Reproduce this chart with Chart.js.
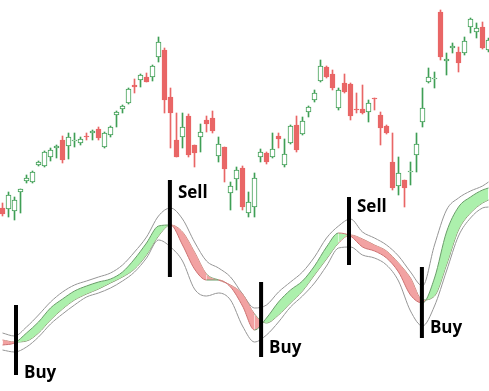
<!DOCTYPE html>
<html>
<head>
<meta charset="utf-8">
<script src="https://cdn.jsdelivr.net/npm/chart.js@4.4.1/dist/chart.umd.min.js"></script>
<style>
  html, body { margin: 0; padding: 0; background: #fff; }
  canvas { display: block; }
</style>
</head>
<body>
<canvas id="myChart" width="489" height="391"></canvas>
<script>
// Price candles, one per bar (bar index 0..81)
const opens  = [96, 95.5, 94.5, 104, 109.5, 109, 117.5, 117, 121.5, 126, 130, 127, 129.5, 128.5, 132, 133.5, 135.5, 126.5, 132.5, 142.5,
                145.5, 148.5, 157.5, 160, 161.5, 161.5, 171.5, 175, 151.5, 130, 131.5, 142, 127.5, 131.5, 140, 141, 122, 126.5, 103.5, 110.5,
                116, 93.5, 96.5, 121.5, 123.5, 121.5, 132, 117.5, 128.5, 137.5, 133, 144, 150, 159.5, 166.5, 163, 146, 158.5, 158, 145.5,
                145.5, 144, 151, 142.5, 137, 119, 107, 110, 114, 122.5, 139, 159, 160.5, 194, 169.5, 176, 174, 173.5, 186.5, 184,
                186.5, 175];
const highs  = [98.5, 104, 101.5, 105.5, 112.5, 114.5, 119.5, 124.5, 126, 127.5, 132, 133.5, 133.5, 131.5, 133.5, 135, 136.5, 134, 137, 144.5,
                147.5, 156, 160.5, 163, 163.5, 167.5, 181.5, 176, 156, 143.5, 143.5, 143, 127.5, 138, 142, 144.5, 131.5, 126.5, 109, 116.5,
                117, 104, 113.5, 125.5, 124, 133.5, 133.5, 130.5, 137.5, 142, 141.5, 147, 155, 170, 167, 165, 156, 163, 158.5, 153.5,
                157.5, 150, 151, 144, 137.5, 133.5, 121.5, 110, 119, 133.5, 156, 166, 164, 195, 173.5, 178.5, 176.5, 181.5, 191, 188.5,
                189, 181];
const lows   = [92, 91.5, 90, 93.5, 108.5, 108.5, 117, 116.5, 119.5, 121, 118.5, 120.5, 126.5, 127.5, 130, 130, 130, 126, 131.5, 136.5,
                143.5, 148, 153.5, 156.5, 159, 159.5, 169, 143.5, 126, 121.5, 126, 121.5, 116.5, 124, 134, 133.5, 119, 109, 95, 105,
                95, 91.5, 91.5, 119, 118, 121, 126, 116.5, 128, 124, 132.5, 141.5, 149, 159, 161, 155, 145, 153.5, 140, 143.5,
                143, 139, 145, 127.5, 133, 105, 102.5, 96.5, 107.5, 114, 136.5, 158.5, 156, 170, 162.5, 173.5, 164, 172.5, 183.5, 181,
                175.5, 174];
const closes = [93, 102.5, 100, 105.5, 111, 114, 119, 124, 125, 127, 120, 131.5, 130, 130.5, 131.5, 134.5, 131, 133.5, 136.5, 144,
                147, 155.5, 156.5, 162.5, 159, 167, 179, 150, 143.5, 121.5, 136.5, 122.5, 123.5, 134, 138, 134.5, 128, 115.5, 107, 115,
                96.5, 99, 111, 124, 119, 125.5, 130.5, 123, 137, 125, 139.5, 146.5, 153.5, 167, 161.5, 156, 155, 154, 142, 145,
                143.5, 148.5, 150.5, 136, 133.5, 106, 113.5, 106, 114.5, 128, 146, 161.5, 161, 171.5, 170.5, 177, 168.5, 179.5, 190.5, 186,
                176, 180];

// Moving-average ribbon, read every second bar
const oscIdx    = [0, 2, 4, 6, 8, 10, 12, 14, 16, 18, 20, 22, 24, 26, 28, 30, 32, 34, 36, 38,
                   40, 42, 44, 46, 48, 50, 52, 54, 56, 58, 60, 62, 64, 66, 68, 70, 72, 74, 76, 78,
                   80, 81];
const fastLine  = [23, 24, 29, 34.5, 41.5, 46, 50, 52.5, 54.5, 56, 59.5, 66, 74, 82.5, 83, 73, 61, 55.5, 55.5, 52,
                   42.5, 30.5, 36.5, 44.5, 50.5, 55, 62.5, 72, 79, 77.5, 72, 70, 66.5, 59.5, 48, 44, 56.5, 79.5, 92, 97,
                   100.5, 101.5];
const slowLine  = [25.5, 24.5, 25, 29, 35.5, 41, 45.5, 48.5, 51, 54, 57, 61, 68, 77.5, 83, 79.5, 69.5, 58.5, 55.5, 53,
                   48.5, 38.5, 34, 38, 44, 50, 58, 66, 74, 78, 76, 73, 70, 64, 56.5, 45.5, 47.5, 63, 80.5, 89,
                   94, 95.5];
const upperBand = [29, 27.5, 32, 38, 44.5, 49.5, 53, 55, 57, 59, 63, 69.5, 77, 87.5, 91.5, 86, 74.5, 65, 61.5, 57,
                   48.5, 41.5, 43, 49.5, 54.5, 59.5, 67, 76.5, 82.5, 86, 79.5, 76.5, 73, 67.5, 59.5, 52.5, 73, 90.5, 96.5, 100,
                   102.5, 104.5];
const lowerBand = [20.5, 19.5, 22, 27, 33.5, 38.5, 43, 47, 49, 51.5, 55, 59.5, 66.5, 75.5, 72, 65, 51, 47.5, 49, 45.5,
                   32.5, 24.5, 28, 34.5, 42, 47.5, 54, 62.5, 71.5, 72, 68, 66.5, 63, 55, 40, 32.5, 42.5, 60, 77.5, 86.5,
                   91.5, 92];

// Signals
const signalIdx    = [2.25, 27.9, 43.1, 57.75, 69.9];
const signalText   = ['Buy', 'Sell', 'Buy', 'Sell', 'Buy'];
const signalTop    = [43, 105.5, 54.5, 97, 62];
const signalBottom = [8, 57, 17, 63, 26.5];
const labelLevel   = [6.5, 96.5, 19, 89.5, 29];

const upColor = '#3f9f55';
const downColor = '#e96666';
const greenEdge = '#6a9c6a';
const redEdge = '#cc7272';

const isUp = opens.map((o, i) => closes[i] >= o);

// Buy / Sell text next to each signal line
const signalLabels = {
    id: 'signalLabels',
    afterDatasetsDraw(chart) {
        const { ctx, scales } = chart;
        ctx.save();
        ctx.font = 'bold 17px "Open Sans", sans-serif';
        ctx.fillStyle = '#000';
        ctx.textBaseline = 'alphabetic';
        signalIdx.forEach((idx, k) => {
            ctx.fillText(signalText[k], scales.x.getPixelForValue(idx) + 8, scales.osc.getPixelForValue(labelLevel[k]));
        });
        ctx.restore();
    }
};

const lineBase = {
    type: 'line',
    yAxisID: 'osc',
    pointRadius: 0,
    borderWidth: 1,
    cubicInterpolationMode: 'monotone',
    fill: false
};

const datasets = [
    {
        type: 'bar',
        label: 'wick',
        yAxisID: 'price',
        order: 2,
        grouped: false,
        barThickness: 1,
        data: highs.map((h, i) => ({ x: i, y: [lows[i], h] })),
        backgroundColor: isUp.map(u => u ? upColor : downColor),
        borderWidth: 0
    },
    {
        type: 'bar',
        label: 'body',
        yAxisID: 'price',
        order: 1,
        grouped: false,
        barThickness: 5,
        data: opens.map((o, i) => ({ x: i, y: [o, closes[i]] })),
        backgroundColor: isUp.map(u => u ? '#ffffff' : downColor),
        borderColor: isUp.map(u => u ? upColor : downColor),
        borderWidth: 1,
        borderSkipped: false
    },
    {
        ...lineBase,
        label: 'fast',
        order: 3,
        data: oscIdx.map((x, k) => ({ x: x, y: fastLine[k] })),
        fill: { target: 3, above: 'rgb(172,240,172)', below: 'rgb(242,162,162)' },
        segment: {
            borderColor: ctx => fastLine[ctx.p1DataIndex] >= slowLine[ctx.p1DataIndex] ? greenEdge : redEdge
        }
    },
    {
        ...lineBase,
        label: 'slow',
        order: 4,
        data: oscIdx.map((x, k) => ({ x: x, y: slowLine[k] })),
        segment: {
            borderColor: ctx => fastLine[ctx.p1DataIndex] >= slowLine[ctx.p1DataIndex] ? greenEdge : redEdge
        }
    },
    {
        ...lineBase,
        label: 'upper',
        order: 5,
        borderColor: 'rgb(150,150,150)',
        data: oscIdx.map((x, k) => ({ x: x, y: upperBand[k] }))
    },
    {
        ...lineBase,
        label: 'lower',
        order: 6,
        borderColor: 'rgb(150,150,150)',
        data: oscIdx.map((x, k) => ({ x: x, y: lowerBand[k] }))
    }
];

signalIdx.forEach((idx, k) => {
    datasets.push({
        type: 'line',
        label: signalText[k],
        yAxisID: 'osc',
        order: 0,
        data: [{ x: idx, y: signalTop[k] }, { x: idx, y: signalBottom[k] }],
        borderColor: '#000',
        borderWidth: 4,
        borderCapStyle: 'butt',
        pointRadius: 0,
        fill: false
    });
});

const ctx = document.getElementById('myChart').getContext('2d');
const chart = new Chart(ctx, {
    type: 'line',
    data: { datasets: datasets },
    options: {
        responsive: false,
        animation: false,
        layout: { padding: 0 },
        scales: {
            x: { type: 'linear', min: -0.4167, max: 81.0833, offset: false, display: false },
            price: { type: 'linear', position: 'left', min: 4.5, max: 200, display: false },
            osc: { type: 'linear', position: 'right', min: 0, max: 195.5, display: false }
        },
        plugins: {
            legend: { display: false },
            tooltip: { enabled: false }
        }
    },
    plugins: [signalLabels]
});
</script>
</body>
</html>
